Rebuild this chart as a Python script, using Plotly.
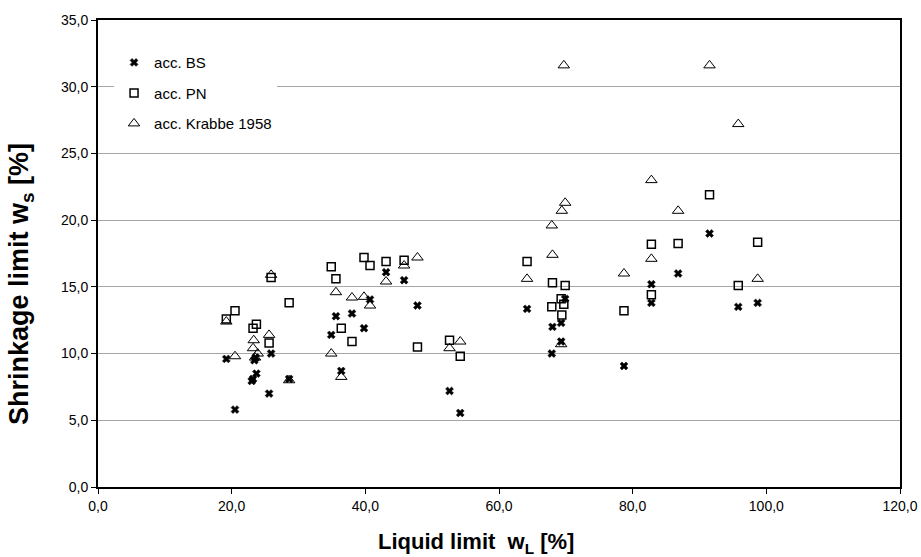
import plotly.graph_objects as go

# acc. BS
bs_x = [19.2, 20.5, 23.0, 23.2, 23.7, 23.4, 23.6, 25.6, 25.9, 28.6, 34.9, 35.6, 36.4, 38.0, 39.8,
        40.7, 43.1, 45.8, 47.8, 52.6, 54.2, 64.2, 67.9, 68.0, 69.3, 69.3, 69.9, 78.7, 82.8, 82.8,
        86.8, 91.5, 95.8, 98.7]
bs_y = [9.6, 5.8, 7.95, 8.1, 8.5, 9.5, 9.7, 7.0, 10.0, 8.1, 11.4, 12.8, 8.7, 13.0, 11.9,
        14.05, 16.1, 15.5, 13.6, 7.2, 5.55, 13.35, 10.0, 12.0, 12.3, 10.9, 14.1, 9.07, 15.2, 13.8,
        16.0, 19.0, 13.5, 13.8]

# acc. PN
pn_x = [19.2, 20.5, 23.2, 23.7, 25.6, 25.9, 28.6, 34.9, 35.6, 36.4, 38.0, 39.8, 40.7, 43.1, 45.8,
        47.8, 52.6, 54.2, 64.2, 67.9, 68.0, 69.3, 69.4, 69.7, 69.9, 78.7, 82.8, 82.8, 86.8, 91.5,
        95.8, 98.7]
pn_y = [12.6, 13.2, 11.9, 12.2, 10.8, 15.7, 13.8, 16.5, 15.6, 11.9, 10.9, 17.2, 16.6, 16.9, 17.0,
        10.5, 11.0, 9.8, 16.9, 13.5, 15.3, 14.1, 12.9, 13.7, 15.1, 13.2, 18.2, 14.4, 18.25, 21.9,
        15.1, 18.35]

# acc. Krabbe 1958
kr_x = [19.2, 20.5, 23.2, 23.3, 23.5, 23.9, 25.6, 25.9, 28.6, 34.9, 35.6, 36.4, 38.0, 39.8, 40.7,
        43.1, 45.8, 47.8, 52.6, 54.2, 64.2, 67.9, 68.0, 69.3, 69.4, 69.9, 69.7, 78.7, 82.8, 82.8,
        86.8, 91.5, 95.8, 98.7]
kr_y = [12.4, 9.8, 10.4, 11.0, 9.7, 10.0, 11.4, 15.9, 8.0, 10.0, 14.6, 8.25, 14.2, 14.25, 13.6,
        15.4, 16.6, 17.2, 10.4, 10.9, 15.6, 19.6, 17.4, 10.7, 20.7, 21.3, 31.6, 16.0, 23.0, 17.1,
        20.7, 31.6, 27.2, 15.6]

FONT = "Liberation Sans, Arial, sans-serif"

fig = go.Figure()
fig.add_trace(go.Scatter(x=bs_x, y=bs_y, mode="markers", name="acc. BS", legendgroup="a",
                         marker=dict(symbol="x", size=7, color="black",
                                     line=dict(width=0.5, color="black"))))
fig.add_trace(go.Scatter(x=pn_x, y=pn_y, mode="markers", name="acc. PN", legendgroup="b",
                         marker=dict(symbol="square-open", size=8, color="black",
                                     line=dict(width=1.5, color="black"))))
fig.add_trace(go.Scatter(x=kr_x, y=kr_y, mode="markers", name="acc. Krabbe 1958", legendgroup="c",
                         marker=dict(symbol="triangle-up-open", size=10, color="black",
                                     line=dict(width=1, color="black"))))

fig.update_layout(
    width=921, height=557,
    margin=dict(l=98, r=21, t=20, b=70),
    paper_bgcolor="white", plot_bgcolor="white",
    separators=", ",
    font=dict(family=FONT, size=14, color="black"),
    showlegend=True,
    legend=dict(x=0.02, y=0.944, xanchor="left", yanchor="top",
                bgcolor="rgba(255,255,255,1)", borderwidth=0,
                font=dict(size=15, family=FONT), tracegroupgap=8,
                traceorder="grouped", itemwidth=30),
)
fig.add_annotation(text="<b>Liquid limit  w<sub>L</sub> [%]</b>", xref="paper", yref="paper",
                   x=(476 - 98) / 802, y=-(543 - 487) / 467, xanchor="center", yanchor="middle",
                   showarrow=False, font=dict(size=22, family=FONT))
fig.add_annotation(text="<b>Shrinkage limit w<sub>s</sub> [%]</b>", xref="paper", yref="paper",
                   x=-(98 - 21) / 802, y=(487 - 284) / 467, xanchor="center", yanchor="middle",
                   textangle=-90, showarrow=False, font=dict(size=27, family=FONT))

fig.update_xaxes(range=[0, 120], dtick=20, tickformat=".1f", showgrid=False, zeroline=False,
                 showline=True, linecolor="black", linewidth=2, mirror=True,
                 ticks="outside", ticklen=5, tickcolor="black", tickwidth=1,
                 tickfont=dict(size=14, family=FONT), automargin=False)
fig.update_yaxes(range=[0, 35], dtick=5, tickformat=".1f", showgrid=True, gridcolor="#a6a6a6",
                 gridwidth=1, zeroline=False,
                 showline=True, linecolor="black", linewidth=2, mirror=True,
                 ticks="outside", ticklen=5, tickcolor="black", tickwidth=1,
                 tickfont=dict(size=14, family=FONT), automargin=False)

# remove the default page margin so the 921x557 figure fills the window exactly
fig.write_html("out.html", config={"displayModeBar": False},
               post_script="document.body.style.margin='0';"
                           "document.documentElement.style.overflow='hidden';"
                           "document.body.style.overflow='hidden';")
